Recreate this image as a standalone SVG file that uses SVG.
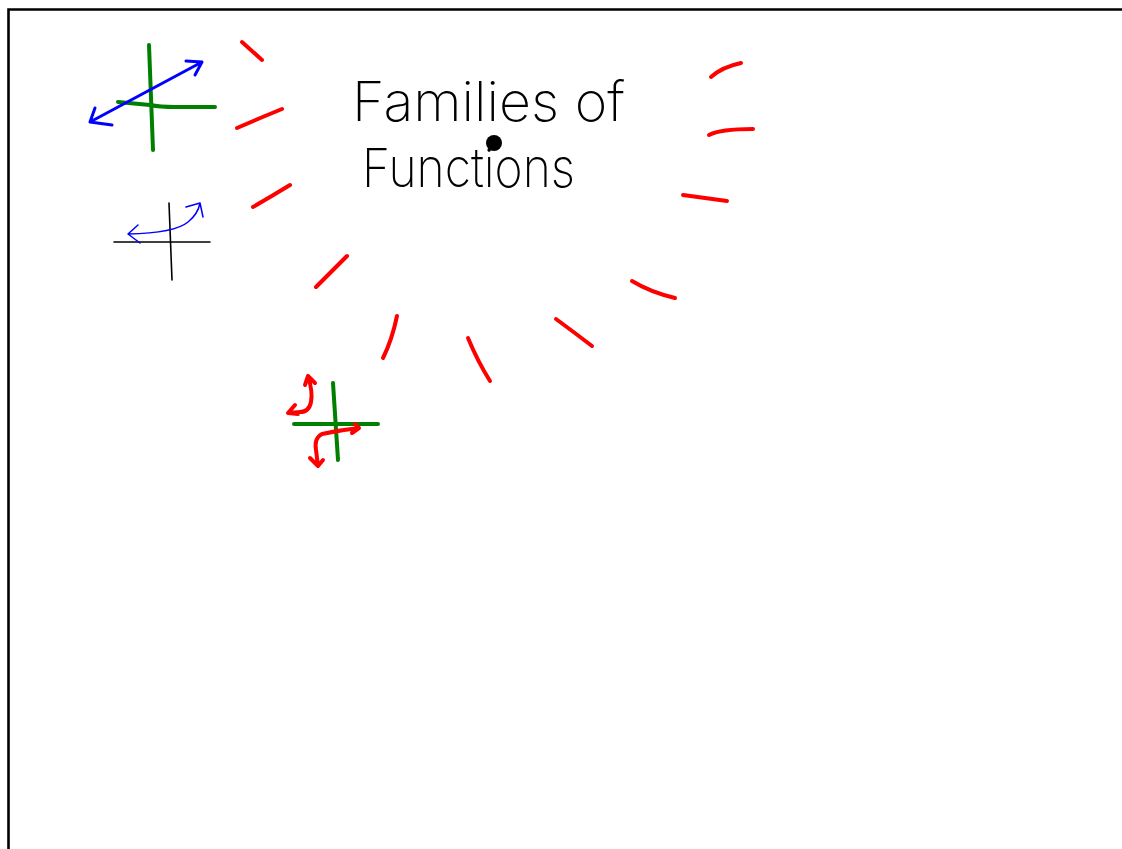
<svg xmlns="http://www.w3.org/2000/svg" width="1122" height="849" viewBox="0 0 1122 849">
<style>
.pen{fill:none;stroke-linecap:round;stroke-linejoin:round}
.red{stroke:#ff0000;stroke-width:4}
.green{stroke:#008000;stroke-width:4}
.blue{stroke:#0000ff;stroke-width:3}
.bluethin{stroke:#0000ff;stroke-width:1.5}
.black{stroke:#000;stroke-width:1.6}
.hand{font-family:Inter,"Liberation Sans",sans-serif;font-weight:200;fill:#000}
</style>
<rect width="1122" height="849" fill="#fff"/>
<path d="M8.5,849 V9.5 H1122" fill="none" stroke="#000" stroke-width="2.6"/>
<g id="title">
<text class="hand" x="352" y="121" font-size="55" textLength="273" lengthAdjust="spacingAndGlyphs">Families of</text>
<text class="hand" x="362" y="187" font-size="54" textLength="213" lengthAdjust="spacingAndGlyphs">Functions</text>
<circle cx="494" cy="143" r="8" fill="#000"/>
</g>
<g id="linear-graph" class="pen">
<path class="green" d="M149,45 Q151,100 153,150"/>
<path class="green" d="M118,102 L150,105 Q160,107 175,107 L215,107"/>
<path class="blue" d="M90,122 L202,62 M186,61 L202,62 L195,75 M95,108 L90,122 L112,125"/>
</g>
<g id="exp-graph" class="pen">
<path class="black" d="M169,203 L172,280 M114,242 L210,242"/>
<path class="bluethin" d="M128,234 Q175,233 188,222 Q198,214 200,203 M186,207 L200,203 L203,217 M138,225 L128,234 L140,243"/>
</g>
<g id="cubic-graph" class="pen">
<path class="green" d="M333,383 L338,460 M294,424 L378,424"/>
<path class="red" d="M308,376 Q313,392 311,402 Q309,412 300,412 L289,413 M305,385 L308,376 L315,383 M295,405 L288,413 L298,414"/>
<path class="red" d="M359,428 Q340,430 322,434 Q314,438 316,450 L318,466 M355,424 L359,428 L352,433 M310,458 L318,466 L323,460"/>
</g>
<g id="rays" class="pen red">
<path d="M242,42 L262,60"/>
<path d="M237,128 Q260,118 282,109"/>
<path d="M253,207 Q272,196 290,185"/>
<path d="M316,287 L347,256"/>
<path d="M383,358 Q392,340 397,316"/>
<path d="M468,338 Q478,362 490,381"/>
<path d="M556,319 Q575,333 592,346"/>
<path d="M632,281 Q650,292 675,298"/>
<path d="M683,195 L727,201"/>
<path d="M709,135 Q720,129 753,129"/>
<path d="M711,77 Q722,67 741,63"/>
</g>
</svg>
